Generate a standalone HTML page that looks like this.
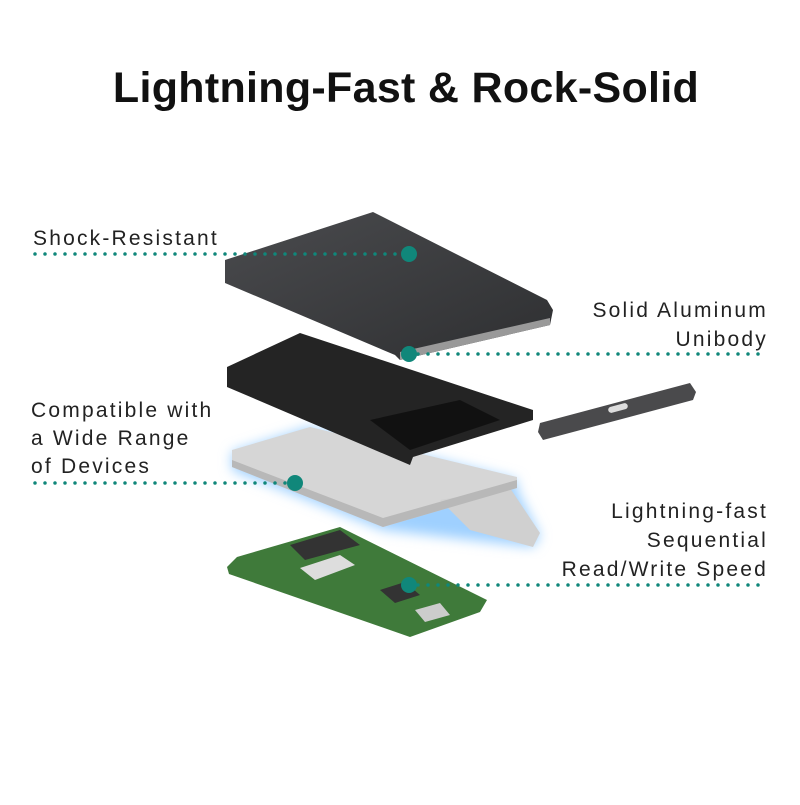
<!DOCTYPE html>
<html><head><style>
body{margin:0;width:800px;height:800px;background:#fff;overflow:hidden;font-family:"Liberation Sans",sans-serif;}
</style></head><body>
<svg width="800" height="800" xmlns="http://www.w3.org/2000/svg">
<defs>
<filter id="b"><feGaussianBlur stdDeviation="6"/></filter>
<linearGradient id="top" x1="0" y1="0" x2="1" y2="1"><stop offset="0" stop-color="#4a4b4e"/><stop offset="1" stop-color="#2e2f31"/></linearGradient>
</defs>
<text x="406" y="102" text-anchor="middle" font-size="43" letter-spacing="0.3" font-weight="bold" fill="#111" font-family="Liberation Sans,sans-serif">Lightning-Fast &amp; Rock-Solid</text>
<!-- PCB -->
<polygon points="237,557 340,527 487,600 480,612 410,637 229,574 227,567" fill="#3f7a3a"/>
<polygon points="290,545 340,530 360,545 305,560" fill="#333"/>
<polygon points="300,568 340,555 355,565 315,580" fill="#ddd"/>
<polygon points="380,590 405,582 420,595 395,603" fill="#333"/>
<polygon points="415,610 440,603 450,615 425,622" fill="#ccc"/>
<!-- plate glow -->
<polygon points="232,452 310,427 517,480 517,490 540,536 533,547 383,530 232,470" fill="#9fd0ff" filter="url(#b)"/>
<!-- plate -->
<polygon points="232,450 310,427 517,477 517,488 383,527 232,467" fill="#d6d6d6"/>
<polygon points="440,500 510,488 540,533 533,547 470,530" fill="#d0d0d0"/>
<polygon points="232,460 383,518 517,480 517,488 383,527 232,467" fill="#b8b8b8"/>
<!-- tray -->
<polygon points="227,367 300,333 533,410 533,420 413,457 410,465 227,387" fill="#242424"/>
<polygon points="370,420 460,400 500,420 410,450" fill="#111"/>
<!-- end cap -->
<polygon points="540,423 690,383 696,392 693,400 543,440 538,432" fill="#4a4a4c"/>
<rect x="608" y="405" width="20" height="6" rx="3" fill="#ddd" transform="rotate(-15 618 408)"/>
<!-- top case -->
<polygon points="225,260 373,212 547,300 553,310 550,325 400,360 395,355 225,283" fill="url(#top)"/>
<polygon points="400,352 550,318 550,325 400,360" fill="#999"/>
<!-- labels -->
<g font-size="21" letter-spacing="2.2" fill="#222" font-family="Liberation Sans,sans-serif">
<text x="33" y="245">Shock-Resistant</text>
<text x="768" y="317" text-anchor="end">Solid Aluminum</text>
<text x="768" y="346" text-anchor="end">Unibody</text>
<text x="31" y="417">Compatible with</text>
<text x="31" y="445">a Wide Range</text>
<text x="31" y="473">of Devices</text>
<text x="768" y="518" text-anchor="end">Lightning-fast</text>
<text x="768" y="547" text-anchor="end">Sequential</text>
<text x="768" y="576" text-anchor="end">Read/Write Speed</text>
</g>
<g stroke="#10877a" stroke-width="3.5" stroke-linecap="round" stroke-dasharray="0 10" fill="none">
<line x1="35" y1="254" x2="405" y2="254"/>
<line x1="418" y1="354" x2="766" y2="354"/>
<line x1="35" y1="483" x2="290" y2="483"/>
<line x1="418" y1="585" x2="766" y2="585"/>
</g>
<g fill="#10877a">
<circle cx="409" cy="254" r="8"/><circle cx="409" cy="354" r="8"/>
<circle cx="295" cy="483" r="8"/><circle cx="409" cy="585" r="8"/>
</g>
</svg>
</body></html>
